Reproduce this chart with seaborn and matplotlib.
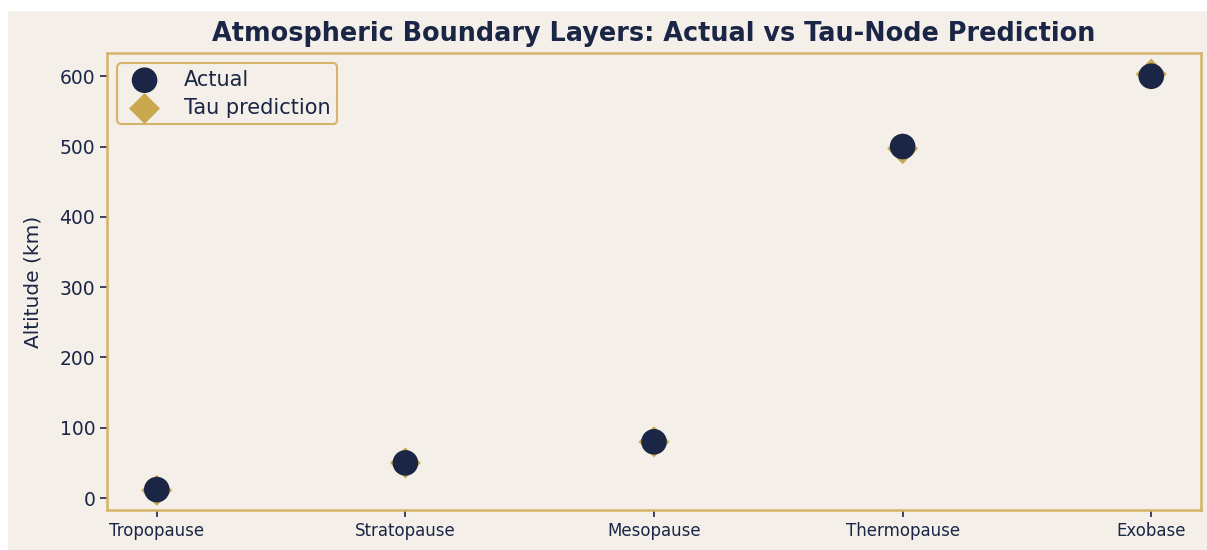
import numpy as np
import pandas as pd
import matplotlib.pyplot as plt
import seaborn as sns
from matplotlib.patches import Rectangle

sns.set_theme(style="white")
plt.rcParams["font.family"] = ["DejaVu Sans"]

NAVY = "#1b2646"
GOLD = "#c9a84f"
BG = "#f4f0e9"

layers = ["Tropopause", "Stratopause", "Mesopause", "Thermopause", "Exobase"]
actual_km = [12, 50, 80, 500, 600]
tau_km = [11, 50, 80, 497, 603]

df = pd.DataFrame({"layer": layers, "actual": actual_km, "tau": tau_km})

fig = plt.figure(figsize=(12.07, 5.5), dpi=100, facecolor=BG)
ax = fig.add_axes([0.0887, 0.0727, 0.9063, 0.8309])
ax.set_facecolor(BG)

sns.scatterplot(data=df, x="layer", y="tau", marker="D", s=250, color=GOLD,
                edgecolor="none", label="Tau prediction", zorder=2, ax=ax)
sns.scatterplot(data=df, x="layer", y="actual", marker="o", s=340, color=NAVY,
                edgecolor="none", label="Actual", zorder=3, ax=ax)

ax.set_title("Atmospheric Boundary Layers: Actual vs Tau-Node Prediction",
             fontsize=18.4, fontweight="bold", color=NAVY, pad=9)
ax.set_ylabel("Altitude (km)", fontsize=14.5, color=NAVY, labelpad=12)
ax.set_xlabel("")
ax.set_yticks([0, 100, 200, 300, 400, 500, 600])
ax.tick_params(axis="y", labelsize=13.5, colors=NAVY, length=5, width=1.2, left=True)
ax.tick_params(axis="x", labelsize=12, colors=NAVY, length=5, width=1.2, bottom=True)
ax.set_ylim(-17, 633)

for sp in ax.spines.values():
    sp.set_color("#d6b467")
    sp.set_linewidth(1.8)

h, l = ax.get_legend_handles_labels()
leg = ax.legend(h[::-1], l[::-1], loc="upper left", fontsize=15,
                frameon=True, facecolor=BG, edgecolor="#d6b467",
                labelcolor=NAVY, markerscale=1.0, borderpad=0.3,
                handletextpad=0.9, labelspacing=0.4,
                bbox_to_anchor=(0.0, 1.0))
leg.get_frame().set_linewidth(1.5)
leg.get_frame().set_alpha(1)

# white strips of the screenshot border
fig.patches.append(Rectangle((0, 1 - 10 / 550), 1, 10 / 550, transform=fig.transFigure,
                             color="white", zorder=-1))
fig.patches.append(Rectangle((0, 0), 7 / 1207, 1, transform=fig.transFigure,
                             color="white", zorder=-1))

fig.savefig("out.png", dpi=100, facecolor=BG)
